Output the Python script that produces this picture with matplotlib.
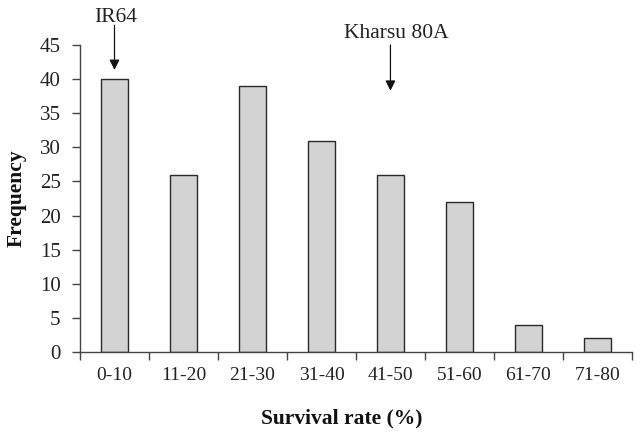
import matplotlib
matplotlib.use("Agg")
import matplotlib.pyplot as plt

categories = ["0-10", "11-20", "21-30", "31-40", "41-50", "51-60", "61-70", "71-80"]
frequency = [40, 26, 39, 31, 26, 22, 4, 2]
yticks = [0, 5, 10, 15, 20, 25, 30, 35, 40, 45]

plt.rcParams['font.family'] = ['Liberation Serif', 'DejaVu Serif']

fig = plt.figure(figsize=(6.41, 4.37), dpi=100)
ax = fig.add_axes([0.1248, 0.1945, 0.861, 0.7025])

x = list(range(len(categories)))
ax.bar(x, frequency, width=0.4, color='#d3d3d3', edgecolor='#2a2a2a', linewidth=1.0)

ax.set_xlim(-0.5, len(categories) - 0.5)
ax.set_ylim(0, 45)
ax.set_yticks(yticks)
ax.set_xticks(x)
ax.set_xticklabels(categories)
ax.set_xticks([i - 0.5 for i in range(len(categories) + 1)], minor=True)
ax.tick_params(axis='x', which='major', length=0, pad=11, labelsize=14, colors='#222222')
ax.tick_params(axis='x', which='minor', length=6, width=1, direction='out', color='#444444')
ax.tick_params(axis='y', length=6, width=1, direction='out', labelsize=15, pad=8,
               color='#444444', labelcolor='#222222')

for s in ['top', 'right']:
    ax.spines[s].set_visible(False)
for s in ['left', 'bottom']:
    ax.spines[s].set_color('#444444')
    ax.spines[s].set_linewidth(1.0)

ax.set_xlabel("Survival rate (%)", fontsize=15.5, fontweight='bold', va='center', color='#111111')
ax.xaxis.set_label_coords(0.475, -0.215)
ax.set_ylabel("Frequency", fontsize=15.5, fontweight='bold', va='center', color='#111111')
ax.yaxis.set_label_coords(-0.115, 0.5)

arrow = dict(arrowstyle='-|>', color='#111111', lw=0.9, mutation_scale=15, shrinkA=0, shrinkB=0)
ax.annotate("", xy=(0.0, 41.35), xytext=(0.0, 47.9), annotation_clip=False, arrowprops=arrow)
ax.text(0.02, 48.3, "IR64", ha='center', va='baseline', fontsize=15.5, color='#222222', clip_on=False)
ax.annotate("", xy=(4.0, 38.3), xytext=(4.0, 45.0), annotation_clip=False, arrowprops=arrow)
ax.text(4.08, 46.0, "Kharsu 80A", ha='center', va='baseline', fontsize=15.5, color='#222222', clip_on=False)

fig.savefig("out.png", dpi=100)
